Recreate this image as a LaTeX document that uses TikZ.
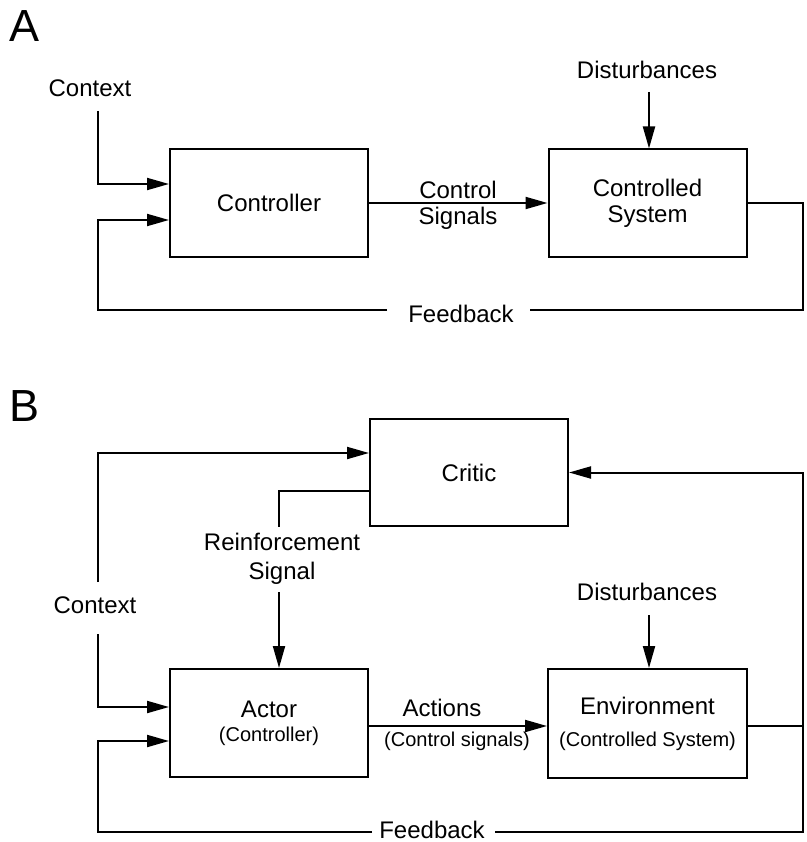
\documentclass[tikz,border=0pt]{standalone}
\usepackage{fontspec}
\setmainfont{Liberation Sans}
\usetikzlibrary{arrows.meta,positioning}

\tikzset{
  block/.style={draw,line width=2pt,minimum width=198pt,minimum height=107pt,inner sep=0pt,align=center,font=\fontsize{24}{26}\selectfont},
  lbl/.style={align=center,inner sep=0pt,font=\fontsize{24}{26}\selectfont},
  sublbl/.style={inner sep=0pt,font=\fontsize{20}{24}\selectfont},
  tag/.style={anchor=north west,inner sep=0pt,font=\fontsize{45}{45}\selectfont},
  wire/.style={line width=2pt},
  sig/.style={line width=2pt,-{Triangle[length=22pt,width=12pt]}}
}

\begin{document}
\begin{tikzpicture}[x=1pt,y=-1pt]
\useasboundingbox (0,0) rectangle (806,842);

% A: classical control loop
\node[tag] (tagA) at (9,10) {A};
\node[block] (ctrl) at (269,203) {Controller};
\node[block] (plant) at (647.5,203) {Controlled\\System};
\node[lbl] (ctxA) at (90,88) {Context};
\node[lbl] (distA) at (647,70) {Disturbances};
\node[lbl] (csig) at (458,205) {Control\\Signals};
\node[lbl] (fbA) at (461,314) {Feedback};
\coordinate (ctxAend) at (98,111);
\coordinate (distAend) at (649,92);
\coordinate (fbAl) at (387,310);
\coordinate (fbAr) at (530,310);

\draw[sig] (ctxAend) |- ([yshift=19pt]ctrl.west);
\draw[sig] (ctrl.east) -- (plant.west);
\draw[sig] (distAend) -- (distAend |- plant.north);
\draw[wire] (plant.east) -| (803,310) -- (fbAr);
\draw[sig] (fbAl) -| (98,220) -- ([yshift=-17pt]ctrl.west);

% B: actor-critic loop
\node[tag] (tagB) at (9,390) {B};
\node[block] (critic) at (469,472.5) {Critic};
\node[block,minimum height=108pt] (actor) at (269,723) {Actor\\[-2pt]{\fontsize{20}{24}\selectfont(Controller)}};
\node[block,minimum width=199pt,minimum height=109pt] (env) at (647.5,723.5) {Environment\\[6pt]{\fontsize{20}{24}\selectfont(Controlled System)}};
\node[lbl] (ctxB) at (95,605) {Context};
\node[lbl,font=\fontsize{24}{29}\selectfont] (reinf) at (282,559) {Reinforcement\\Signal};
\node[lbl] (distB) at (647,592) {Disturbances};
\node[lbl] (act) at (442,708) {Actions};
\node[sublbl] (actsub) at (457,741) {(Control signals)};
\node[lbl] (fbB) at (432,830) {Feedback};
\coordinate (ctxBtop) at (98,582);
\coordinate (ctxBbot) at (98,634);
\coordinate (reinfTop) at (279,527);
\coordinate (reinfBot) at (279,592);
\coordinate (distBend) at (649,615);
\coordinate (fbBl) at (372,832);
\coordinate (fbBr) at (495,832);

\draw[sig] (ctxBtop) |- ([yshift=19.5pt]critic.west);
\draw[sig] (ctxBbot) |- ([yshift=16pt]actor.west);
\draw[wire] ([yshift=-18.5pt]critic.west) -| (reinfTop);
\draw[sig] (reinfBot) -- (reinfBot |- actor.north);
\draw[sig] ([yshift=-3pt]actor.east) -- ([yshift=-2.5pt]env.west);
\draw[sig] (distBend) -- (distBend |- env.north);
\draw[wire] ([yshift=-2.5pt]env.east) -- (803,726);
\draw[sig] (fbBr) -| (803,472.5) -- (critic.east);
\draw[sig] (fbBl) -| (98,741) -- ([yshift=-18pt]actor.west);
\end{tikzpicture}
\end{document}
